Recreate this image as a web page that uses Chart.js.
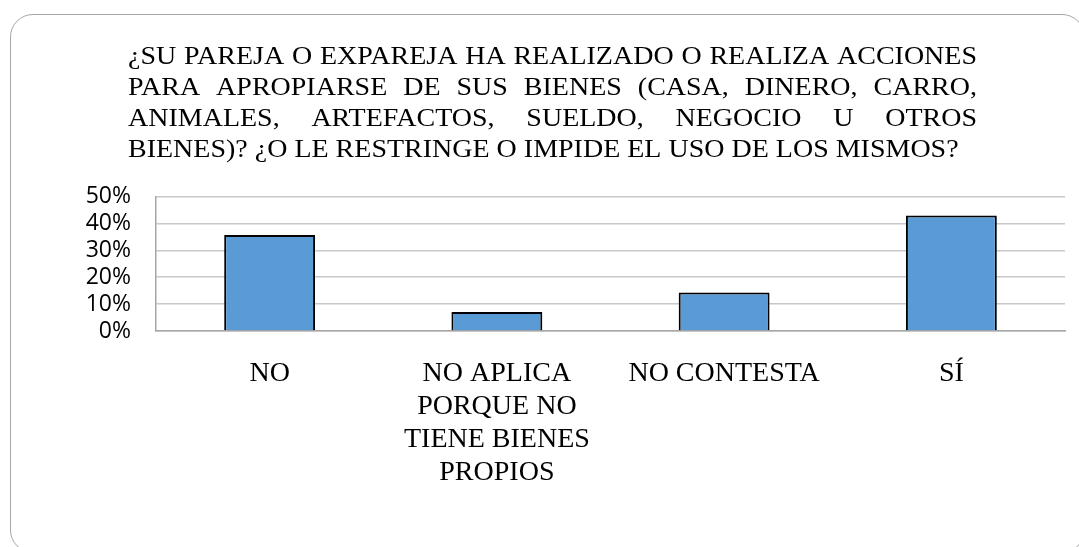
<!DOCTYPE html>
<html>
<head>
<meta charset="utf-8">
<script src="https://cdn.jsdelivr.net/npm/chart.js@4.4.0/dist/chart.umd.min.js"></script>
<style>
  html, body { margin: 0; padding: 0; background: #fff; overflow: hidden; }
  #wrap { position: relative; width: 1079px; height: 547px; }
  #frame { position: absolute; left: 10px; top: 14px; width: 1075px; height: 539px;
           border: 1.5px solid #a6a6a6; border-radius: 23px; box-sizing: border-box; }
  canvas { position: absolute; left: 0; top: 0; }
</style>
</head>
<body>
<div id="wrap">
  <div id="frame"></div>
  <canvas id="myChart" width="1079" height="547"></canvas>
</div>
<script>
// datos
const titleLines = [
  "¿SU PAREJA O EXPAREJA HA REALIZADO O REALIZA ACCIONES",
  "PARA APROPIARSE DE SUS BIENES (CASA, DINERO, CARRO,",
  "ANIMALES, ARTEFACTOS, SUELDO, NEGOCIO U OTROS",
  "BIENES)? ¿O LE RESTRINGE O IMPIDE EL USO DE LOS MISMOS?"
];
const categories = ["NO", ["NO APLICA", "PORQUE NO", "TIENE BIENES", "PROPIOS"], "NO CONTESTA", "SÍ"];
const values = [0.357, 0.071, 0.143, 0.429];
const yTickLabels = ["0%", "10%", "20%", "30%", "40%", "50%"];

// titulo justificado como en el original
const titlePlugin = {
  id: "justTitle",
  afterDraw(chart) {
    const ctx = chart.ctx;
    const left = 128, right = 977, firstBase = 63.5, gap = 31;
    ctx.save();
    ctx.font = '28px "Liberation Serif"';
    ctx.fillStyle = "#000";
    ctx.textBaseline = "alphabetic";
    titleLines.forEach((line, i) => {
      const words = line.split(" ");
      const y = firstBase + i * gap;
      const wordsW = words.reduce((s, w) => s + ctx.measureText(w).width, 0);
      const last = i === titleLines.length - 1;
      const space = last ? ctx.measureText(" ").width : (right - left - wordsW) / (words.length - 1);
      let x = left;
      words.forEach(w => {
        ctx.save();
        ctx.translate(x, y);
        ctx.scale(1, 0.9);
        ctx.fillText(w, 0, 0);
        ctx.restore();
        x += ctx.measureText(w).width + space;
      });
    });
    ctx.restore();
  }
};

const chart = new Chart(document.getElementById("myChart").getContext("2d"), {
  type: "bar",
  data: {
    labels: categories,
    datasets: [{
      data: values,
      backgroundColor: "#5b9bd5",
      borderColor: "#000",
      borderWidth: 2,
      barPercentage: 0.4,
      categoryPercentage: 1
    }]
  },
  options: {
    responsive: false,
    animation: false,
    layout: { padding: { top: 196.5, right: 14, left: 0, bottom: 0 } },
    plugins: { legend: { display: false }, tooltip: { enabled: false } },
    scales: {
      x: {
        grid: { display: false },
        border: { display: true, color: "#a6a6a6", width: 1.5 },
        ticks: {
          color: "#000",
          padding: 18,
          maxRotation: 0,
          autoSkip: false,
          font: { family: "Liberation Serif", size: 28, lineHeight: "33px" }
        },
        afterFit(scale) { scale.height = 216; }
      },
      y: {
        min: 0,
        max: 0.5,
        grid: { color: "#c8c8c8", lineWidth: 1.5, drawTicks: false },
        border: { display: true, color: "#a6a6a6", width: 1.5 },
        ticks: {
          stepSize: 0.1,
          autoSkip: false,
          color: "#000",
          padding: 25,
          font: { family: "Open Sans", size: 23 },
          callback: (v, i) => yTickLabels[i]
        },
        afterFit(scale) { scale.width = 156; }
      }
    }
  },
  plugins: [titlePlugin]
});
window.myChart = chart;
</script>
</body>
</html>
